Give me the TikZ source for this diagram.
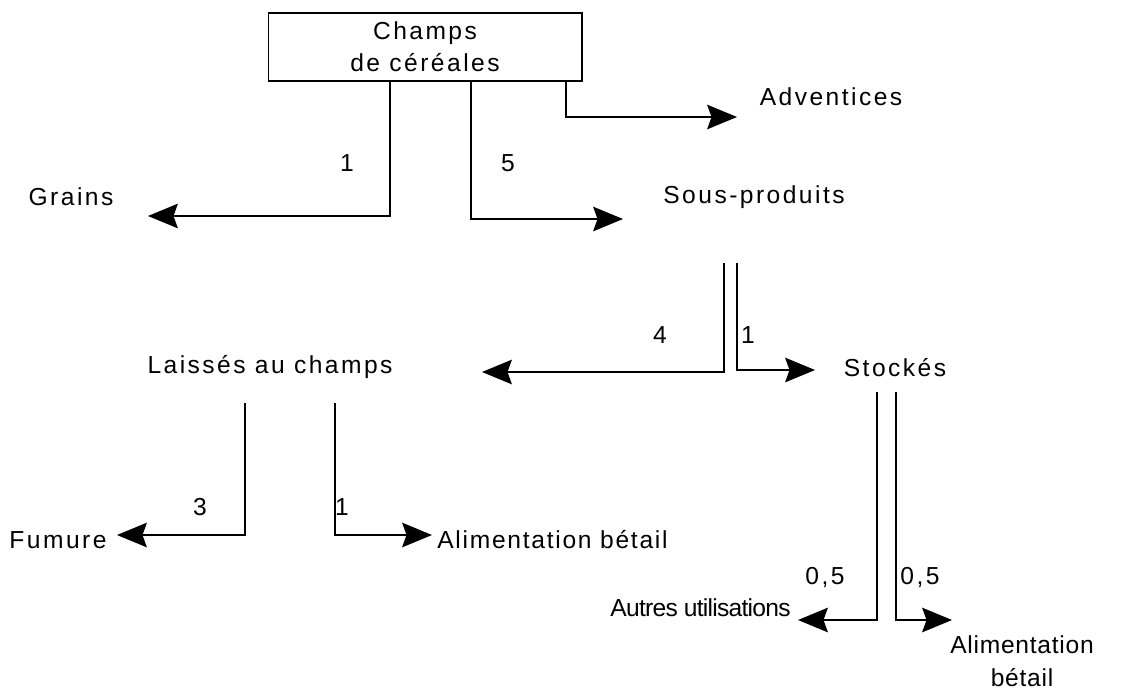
\documentclass[tikz,border=0pt]{standalone}
\usepackage{fontspec}
\setmainfont{Liberation Sans}[LetterSpace=10]
\usetikzlibrary{arrows.meta}
\begin{document}
\begin{tikzpicture}[x=0.02cm,y=-0.02cm,
  lbl/.style={font=\fontsize{14}{18}\selectfont, inner sep=0pt, align=center},
  num/.style={font=\fontsize{14}{15}\selectfont, inner sep=0pt},
  flow/.style={line width=0.8pt, -{Stealth[length=17pt,width=14pt,inset=2.5pt]}},
]
\useasboundingbox (0,0) rectangle (1124,690);

% source box
\node[lbl, draw, line width=0.6pt, minimum width=6.28cm, minimum height=1.36cm]
  (champs) at (425,47) {Champs\\de céréales};

% destination labels
\node[lbl] (grains) at (71,197) {Grains};
\node[lbl] (advent) at (831,97) {Adventices};
\node[lbl] (sous) at (754,197) {Sous-produits};
\node[lbl] (laisses) at (270,367) {Laissés au champs};
\node[lbl] (stock) at (895,368) {Stockés};
\node[lbl] (fumure) at (58,540) {Fumure};
\node[lbl, anchor=west, font=\fontsize{14}{18}\selectfont\addfontfeatures{LetterSpace=7}]
  (alim1) at (437,540) {Alimentation bétail};
\node[lbl, anchor=east, font=\fontsize{14}{18}\selectfont\addfontfeatures{LetterSpace=-3}]
  (autres) at (791,608) {Autres utilisations};
\node[lbl, font=\fontsize{14}{19}\selectfont\addfontfeatures{LetterSpace=3}]
  (alim2) at (1022,661) {Alimentation\\bétail};

% start points of the flows
\coordinate (c1) at (390,81);
\coordinate (c2) at (471,81);
\coordinate (c3) at (566,81);
\coordinate (p1) at (724,263);
\coordinate (p2) at (737,263);
\coordinate (l1) at (245,403);
\coordinate (l2) at (335,403);
\coordinate (k1) at (877,392);
\coordinate (k2) at (896,392);

% arrow tips
\coordinate (tgrains) at (148,216);
\coordinate (tsous) at (623,219);
\coordinate (tadv) at (737,117);
\coordinate (tlaiss) at (482,372);
\coordinate (tstock) at (815,370);
\coordinate (tfum) at (117,535);
\coordinate (talim1) at (432,535);
\coordinate (tautres) at (798,620);
\coordinate (talim2) at (952,620);

% flows
\draw[flow] (c1) |- (tgrains);
\draw[flow] (c2) |- (tsous);
\draw[flow] (c3) |- (tadv);
\draw[flow] (p1) |- (tlaiss);
\draw[flow] (p2) |- (tstock);
\draw[flow] (l1) |- (tfum);
\draw[flow] (l2) |- (talim1);
\draw[flow] (k1) |- (tautres);
\draw[flow] (k2) |- (talim2);

% quantities
\node[num] (n1) at (347,163) {1};
\node[num] (n2) at (508,163) {5};
\node[num] (n3) at (660,335) {4};
\node[num] (n4) at (748,335) {1};
\node[num] (n5) at (200,507) {3};
\node[num] (n6) at (342,507) {1};
\node[num] (n7) at (825,577) {0,5};
\node[num] (n8) at (920,577) {0,5};
\end{tikzpicture}
\end{document}
